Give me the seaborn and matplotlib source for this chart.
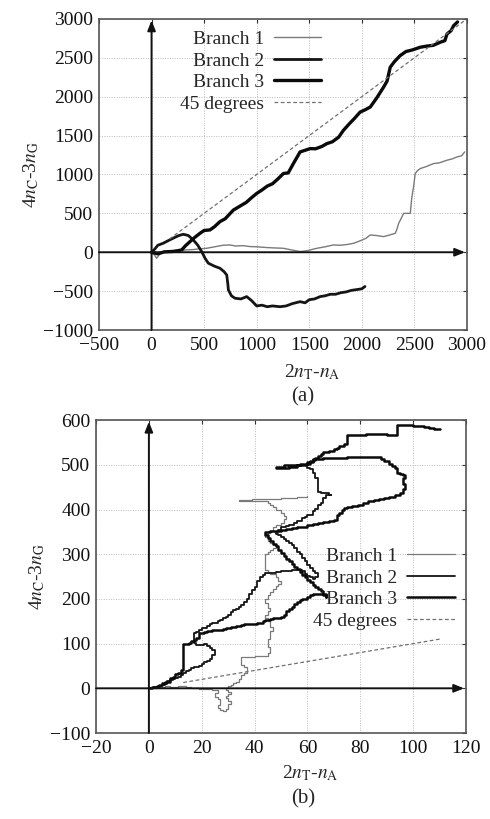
import numpy as np
import pandas as pd
import matplotlib
matplotlib.use("Agg")
import matplotlib.pyplot as plt
import seaborn as sns

# ---------------- data: panel (a) ----------------
a_b1_x = [0, 25, 48, 80, 130, 200, 260, 333, 400, 460, 524, 600, 680, 746, 800, 870, 937, 1000, 1100, 1180,
          1254, 1330, 1413, 1480, 1572, 1650, 1730, 1800, 1860, 1921, 1990, 2040, 2080, 2140, 2207, 2260, 2318,
          2335, 2350, 2380, 2397, 2430, 2461, 2475, 2492, 2508, 2530, 2556, 2610, 2683, 2740, 2810, 2860, 2905,
          2950, 2978]
a_b1_y = [0, -30, -77, -20, 0, 10, 20, 30, 35, 45, 51, 70, 90, 94, 80, 85, 73, 70, 60, 55,
          51, 30, 9, 20, 51, 70, 94, 90, 100, 115, 150, 180, 222, 215, 201, 220, 243,
          300, 371, 450, 500, 500, 500, 700, 841, 1012, 1050, 1076, 1100, 1140, 1150, 1183, 1200, 1225,
          1240, 1290]

a_b2_x = [0, 30, 60, 111, 160, 220, 260, 302, 350, 397, 440, 477, 510, 540, 600, 651, 690, 715, 725, 731,
          760, 794, 850, 905, 950, 1000, 1050, 1100, 1150, 1223, 1280, 1340, 1413, 1460, 1500, 1550, 1604,
          1650, 1700, 1750, 1800, 1850, 1900, 1950, 2000, 2030]
a_b2_y = [0, 40, 90, 116, 150, 190, 215, 231, 215, 158, 90, 8, -80, -141, -180, -206, -250, -292, -400, -485,
          -560, -591, -600, -570, -620, -690, -680, -700, -690, -700, -690, -660, -635, -650, -610, -600, -570,
          -560, -540, -540, -520, -510, -490, -480, -470, -440]

a_b3_x = [0, 60, 120, 200, 250, 287, 320, 366, 410, 461, 500, 556, 600, 651, 700, 778, 850, 900, 950, 1000,
          1050, 1100, 1150, 1200, 1254, 1300, 1349, 1413, 1460, 1508, 1560, 1620, 1667, 1720, 1780, 1825,
          1880, 1930, 1984, 2030, 2080, 2140, 2207, 2240, 2270, 2310, 2365, 2420, 2480, 2556, 2620, 2680,
          2746, 2790, 2810, 2850, 2873, 2910]
a_b3_y = [0, -20, 5, 10, 20, 30, 80, 137, 190, 244, 280, 287, 330, 394, 430, 542, 600, 640, 700, 756,
          800, 850, 880, 940, 1012, 1020, 1140, 1290, 1310, 1332, 1330, 1360, 1396, 1420, 1480, 1567,
          1650, 1720, 1802, 1830, 1866, 1980, 2122, 2200, 2378, 2450, 2528, 2580, 2600, 2635, 2650, 2660,
          2699, 2720, 2805, 2850, 2912, 2960]

a_diag_x = [170, 3000]

# ---------------- data: panel (b) (staircase walks, read as vertex pairs) ----------------
b_b1_pts = [(0, 0), (2, 1), (3, 2), (5, 3), (6, 5), (8, 4), (10, 3), (11, 5), (13, 6), (14, 4), (16, 3), (16, 0),
            (19, -1), (22, -2), (24, -3), (26, -5), (26, -10), (25, -15), (25, -20), (26, -25), (27, -30),
            (27, -38), (26, -45), (27, -48), (28, -50), (29, -46), (30, -42), (30, -35), (31, -28), (30, -22),
            (29, -18), (30, -12), (31, -8), (30, -4), (29, 0), (30, 5), (31, 8), (32, 12), (33, 15), (34, 20),
            (35, 25), (35, 30), (36, 35), (37, 40), (37, 48), (36, 52), (35, 58), (35, 64), (35, 70), (37, 71),
            (40, 72), (42, 72), (45, 72), (45, 78), (46, 86), (46, 92), (45, 100), (45, 110), (46, 120),
            (46, 128), (47, 138), (46, 144), (46, 150), (45, 158), (44, 165), (45, 172), (46, 180), (45, 190),
            (44, 200), (45, 208), (46, 215), (47, 222), (48, 228), (49, 234), (50, 240), (49, 248), (48, 255),
            (46, 260), (45, 265), (44, 272), (44, 280), (44, 290), (44, 300), (45, 305), (46, 310), (47, 315),
            (48, 320), (47, 325), (46, 330), (45, 338), (44, 345), (45, 352), (47, 360), (48, 365), (50, 370),
            (51, 378), (52, 385), (51, 392), (50, 400), (48, 405), (47, 410), (46, 414), (45, 418), (42, 419),
            (38, 420), (36, 420), (34, 421), (36, 422), (39, 423), (42, 424), (46, 424), (50, 425), (53, 426),
            (56, 428), (58, 429), (60, 430)]

b_b2_pts = [(0, 0), (1, 1), (2, 3), (3, 4), (4, 5), (5, 7), (6, 9), (7, 12), (7, 16), (8, 18), (9, 20), (10, 23),
            (11, 26), (12, 30), (13, 34), (14, 38), (15, 42), (16, 45), (17, 47), (18, 48), (19, 50), (20, 55),
            (21, 58), (22, 62), (23, 65), (24, 70), (24, 75), (25, 80), (25, 85), (24, 90), (23, 95), (22, 100),
            (21, 98), (19, 98), (18, 102), (17, 106), (17, 110), (17, 116), (17, 123), (18, 126), (19, 130),
            (20, 134), (22, 140), (23, 144), (24, 147), (26, 150), (27, 153), (28, 157), (29, 160), (30, 165),
            (31, 170), (32, 175), (33, 178), (34, 182), (35, 187), (36, 192), (37, 200), (38, 206), (38, 212),
            (39, 220), (40, 226), (41, 233), (41, 240), (42, 246), (42, 250), (43, 253), (44, 257), (46, 258),
            (48, 260), (50, 262), (52, 263), (54, 264), (56, 264), (58, 262), (59, 256), (60, 252), (61, 248),
            (62, 245), (63, 250), (64, 257), (63, 262), (62, 270), (61, 276), (60, 285), (59, 292), (58, 300),
            (57, 306), (56, 315), (55, 320), (54, 325), (53, 330), (52, 335), (51, 338), (50, 342), (49, 346),
            (48, 350), (49, 355), (50, 360), (52, 363), (53, 366), (55, 370), (56, 375), (58, 380), (59, 384),
            (60, 388), (62, 390), (62, 396), (63, 402), (64, 410), (65, 415), (66, 420), (66, 426), (67, 432),
            (69, 432), (68, 436), (66, 438), (65, 440), (64, 446), (64, 451), (64, 458), (64, 464), (64, 470),
            (63, 476), (63, 482), (62, 490), (61, 493), (60, 495)]

b_b3_pts = [(0, 0), (1, 2), (2, 3), (3, 6), (4, 8), (5, 9), (5, 12), (6, 15), (7, 14), (8, 18), (8, 22), (9, 25),
            (10, 28), (10, 32), (11, 35), (12, 38), (12, 42), (13, 45), (13, 52), (13, 60), (13, 75), (13, 90),
            (13, 100), (15, 101), (16, 105), (17, 108), (18, 112), (19, 118), (19, 123), (21, 125), (22, 128),
            (24, 130), (26, 131), (28, 133), (29, 136), (31, 138), (33, 139), (35, 141), (36, 144), (38, 145),
            (40, 144), (41, 146), (43, 150), (44, 153), (46, 154), (47, 157), (49, 158), (50, 160), (51, 165),
            (52, 172), (53, 178), (54, 182), (55, 188), (56, 194), (57, 198), (58, 200), (60, 204), (61, 208),
            (62, 210), (64, 212), (66, 208), (67, 205), (67, 212), (66, 218), (65, 222), (64, 226), (63, 232),
            (62, 238), (61, 243), (60, 248), (59, 254), (58, 260), (57, 266), (56, 272), (55, 278), (54, 284),
            (53, 290), (52, 297), (51, 303), (50, 310), (49, 318), (48, 324), (47, 330), (46, 336), (45, 343),
            (44, 350), (46, 352), (48, 353), (50, 355), (52, 357), (54, 358), (56, 360), (58, 362), (60, 365),
            (62, 368), (64, 370), (66, 372), (68, 375), (70, 377), (71, 382), (71, 388), (72, 392), (73, 398),
            (74, 403), (75, 406), (77, 408), (79, 411), (81, 414), (83, 418), (85, 421), (87, 423), (89, 426),
            (91, 428), (93, 432), (95, 436), (96, 440), (96, 446), (97, 450), (97, 458), (96, 464), (96, 470),
            (97, 474), (97, 478), (96, 480), (95, 482), (94, 488), (94, 493), (93, 497), (92, 503), (91, 508),
            (89, 512), (88, 518), (85, 518), (80, 517), (75, 516), (70, 515), (66, 513), (63, 510), (62, 506),
            (60, 503), (57, 500), (54, 499), (51, 496), (48, 492), (50, 494), (53, 496), (56, 499), (60, 503),
            (61, 508), (62, 512), (63, 516), (64, 520), (65, 524), (66, 529), (68, 531), (70, 535), (71, 538),
            (72, 542), (74, 546), (75, 548), (75, 555), (75, 562), (75, 567), (78, 567), (82, 568), (86, 568),
            (90, 567), (94, 567), (94, 575), (94, 583), (94, 590), (96, 590), (98, 589), (100, 588), (102, 586),
            (104, 584), (106, 583), (108, 581), (110, 580)]

b_diag_x = [13, 110]

legend_labels = ["Branch 1", "Branch 2", "Branch 3", "45 degrees"]
caption_labels = ["(a)", "(b)"]

# ---------------- style ----------------
sns.set_theme(style="white")
plt.rcParams["font.family"] = ["Liberation Serif", "DejaVu Serif"]
plt.rcParams["mathtext.fontset"] = "stix"

FS = 14
c_b1, c_b2, c_b3, c_diag = "#7a7a7a", "#151515", "#0a0a0a", "#707070"

fig = plt.figure(figsize=(4.90, 8.19), dpi=100)
ax_a = fig.add_axes([0.202, 0.597, 0.751, 0.380])
ax_b = fig.add_axes([0.196, 0.105, 0.755, 0.382])


def draw_panel(ax, series, diag_x, xlim, ylim, xticks, yticks, steps, leg_anchor, xlab_y):
    handles = []
    for (xs, ys, col, lw) in series:
        df = pd.DataFrame({"x": xs, "y": ys})
        kw = dict(drawstyle="steps-post") if steps else {}
        sns.lineplot(data=df, x="x", y="y", sort=False, estimator=None, color=col, lw=lw, ax=ax, **kw)
        handles.append(ax.lines[-1])
    ddf = pd.DataFrame({"x": diag_x, "y": diag_x})
    sns.lineplot(data=ddf, x="x", y="y", sort=False, estimator=None, color=c_diag, lw=0.9,
                 linestyle=(0, (3, 2)), ax=ax)
    handles.append(ax.lines[-1])

    ax.set_xlim(*xlim)
    ax.set_ylim(*ylim)
    ax.set_xticks(xticks)
    ax.set_yticks(yticks)
    ax.set_xticklabels([f"{t}".replace("-", "\u2212") for t in xticks], fontsize=FS)
    ax.set_yticklabels([f"{t}".replace("-", "\u2212") for t in yticks], fontsize=FS)
    ax.tick_params(direction="in", length=3, width=0.8, top=True, right=True, colors="#333333",
                   labelcolor="#111111")
    ax.tick_params(axis="x", pad=5)
    ax.tick_params(axis="y", pad=4)
    ax.grid(True, color="#bbbbbb", linestyle=(0, (1, 1.5)), lw=0.7)
    for s in ax.spines.values():
        s.set_color("#555555")
        s.set_linewidth(1.2)
    # coordinate axes with arrowheads
    ax.annotate("", xy=(0, 0.995), xytext=(0, 0), xycoords=("data", "axes fraction"),
                arrowprops=dict(arrowstyle="-|>,head_length=0.5,head_width=0.2", color="#111111", lw=1.4,
                                shrinkA=0, shrinkB=0))
    ax.annotate("", xy=(0.995, 0), xytext=(0, 0), xycoords=("axes fraction", "data"),
                arrowprops=dict(arrowstyle="-|>,head_length=0.5,head_width=0.2", color="#111111", lw=1.4,
                                shrinkA=0, shrinkB=0))
    ax.set_xlabel(r"2$\mathit{n}_{\mathrm{T}}$-$\mathit{n}_{\mathrm{A}}$", fontsize=FS)
    ax.set_ylabel(r"4$\mathit{n}_{\mathrm{C}}$-3$\mathit{n}_{\mathrm{G}}$", fontsize=FS, labelpad=2)
    ax.xaxis.set_label_coords(0.58, xlab_y)
    ax.legend(handles, legend_labels, loc="upper right", bbox_to_anchor=leg_anchor, frameon=False,
              markerfirst=False, fontsize=FS, handlelength=2.45, handletextpad=0.5, labelspacing=0.2,
              borderpad=0.4)


series_a = [(a_b1_x, a_b1_y, c_b1, 1.0), (a_b2_x, a_b2_y, c_b2, 2.0), (a_b3_x, a_b3_y, c_b3, 2.4)]
bx1, by1 = zip(*b_b1_pts)
bx2, by2 = zip(*b_b2_pts)
bx3, by3 = zip(*b_b3_pts)
series_b = [(list(bx1), list(by1), c_b1, 0.9), (list(bx2), list(by2), c_b2, 1.3), (list(bx3), list(by3), c_b3, 1.8)]

draw_panel(ax_a, series_a, a_diag_x, (-500, 3000), (-1000, 3000),
           list(range(-500, 3001, 500)), list(range(-1000, 3001, 500)), False, (0.652, 1.019), -0.103)
draw_panel(ax_b, series_b, b_diag_x, (-20, 120), (-100, 600),
           list(range(-20, 121, 20)), list(range(-100, 601, 100)), True, (1.017, 0.649), -0.097)

fig.text(0.618, 0.515, caption_labels[0], ha="center", va="center", fontsize=15)
fig.text(0.618, 0.024, caption_labels[1], ha="center", va="center", fontsize=15)

fig.savefig("out.png", dpi=100)
